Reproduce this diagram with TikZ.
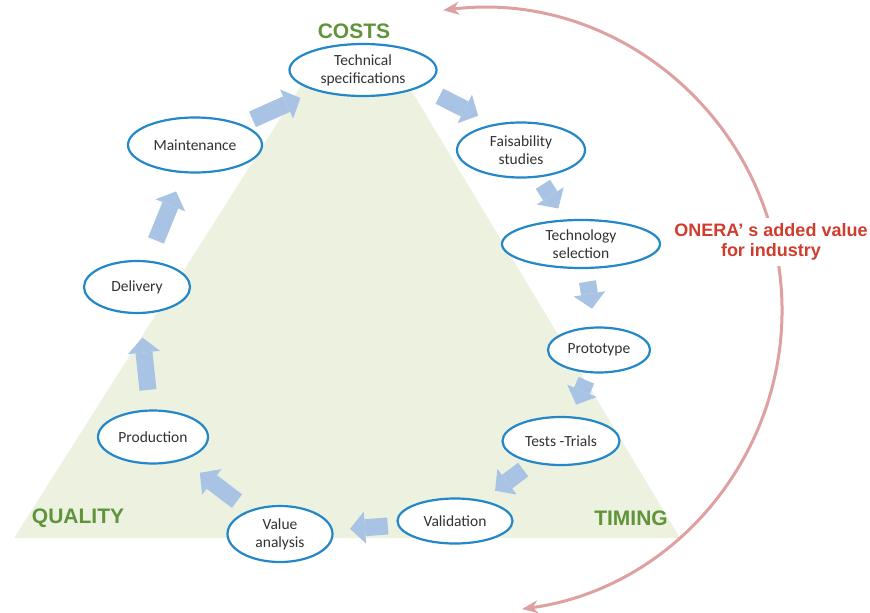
\documentclass[tikz,border=0pt]{standalone}
\usepackage{fontspec}
\setmainfont{Carlito}
\newfontfamily\headfont{Liberation Sans}
\usetikzlibrary{shapes.geometric,arrows.meta,calc}
\definecolor{tri}{RGB}{236,241,224}
\definecolor{ellblue}{RGB}{35,135,200}
\definecolor{arrblue}{RGB}{168,195,228}
\definecolor{costgreen}{RGB}{96,148,58}
\definecolor{arcred}{RGB}{222,160,160}
\definecolor{onerared}{RGB}{208,60,45}
\definecolor{txt}{RGB}{50,50,50}
\begin{document}
\begin{tikzpicture}[x=1pt,y=-1pt,
 stage/.style={ellipse, draw=ellblue, line width=2.2pt, fill=white, inner sep=0pt, text=txt, font=\fontsize{15.5}{18}\selectfont, align=center},
 flowarr/.style={draw=arrblue, line width=17pt, -{Triangle[length=15pt,width=32pt,line width=0pt]}},
 corner/.style={font=\headfont\bfseries\fontsize{21}{24}\selectfont, text=costgreen},
 arcline/.style={draw=arcred, line width=3pt, {Stealth[length=16pt,width=13pt]}-{Stealth[length=16pt,width=13pt]}},
]
\useasboundingbox (0,0) rectangle (870,613);
% background triangle
\fill[tri] (14,538) -- (311,70) -- (399,70) -- (680,538) -- cycle;
% red arc
\coordinate (arcc) at (480,310);
\draw[arcline] ($(arcc)+(-97:302)$) arc[start angle=-97,end angle=82,radius=302];
\node[font=\headfont\bfseries\fontsize{18}{20}\selectfont, text=onerared, fill=white, align=center, inner xsep=2pt, inner ysep=6pt] (onera) at (771,242) {ONERA’ s added value\\for industry};
% stages
\node[stage, minimum width=147pt, minimum height=52pt] (ts) at (363,70) {Technical\\specifications};
\node[stage, minimum width=128pt, minimum height=55pt] (fs) at (521,150) {Faisability\\studies};
\node[stage, minimum width=158pt, minimum height=48pt] (sel) at (581,244) {Technology\\selection};
\node[stage, minimum width=102pt, minimum height=45pt] (pro) at (599,350) {Prototype};
\node[stage, minimum width=117pt, minimum height=48pt] (tst) at (561,441) {Tests -Trials};
\node[stage, minimum width=115pt, minimum height=45pt] (val) at (455,521) {Validation};
\node[stage, minimum width=105pt, minimum height=56pt] (va) at (280,534) {Value\\analysis};
\node[stage, minimum width=110pt, minimum height=53pt] (prod) at (153,437) {Production};
\node[stage, minimum width=106pt, minimum height=52pt] (del) at (137,287) {Delivery};
\node[stage, minimum width=134pt, minimum height=55pt] (mnt) at (195,145) {Maintenance};
% flow arrows
\draw[flowarr] ($(ts)!0.452!(fs)+(5,-10)$) -- ($(ts)!0.697!(fs)+(5,-10)$);
\draw[flowarr] ($(fs)!0.365!(sel)$) -- ($(fs)!0.622!(sel)$);
\draw[flowarr] ($(sel)!0.355!(pro)$) -- ($(sel)!0.610!(pro)$);
\draw[flowarr] ($(pro)!0.333!(tst)$) -- ($(pro)!0.601!(tst)$);
\draw[flowarr] ($(tst)!0.357!(val)$) -- ($(tst)!0.622!(val)$);
\draw[flowarr] ($(val)!0.384!(va)$) -- ($(val)!0.600!(va)$);
\draw[flowarr] ($(va)!0.339!(prod)$) -- ($(va)!0.631!(prod)$);
\draw[flowarr] ($(prod)!0.314!(del)$) -- ($(prod)!0.663!(del)$);
\draw[flowarr] ($(del)!0.328!(mnt)$) -- ($(del)!0.673!(mnt)$);
\draw[flowarr] ($(mnt)!0.342!(ts)$) -- ($(mnt)!0.627!(ts)$);
% corner labels
\node[corner] (costs) at (354,31) {COSTS};
\node[corner] (quality) at (78,518) {QUALITY};
\node[corner] (timing) at (631,518) {TIMING};
\end{tikzpicture}
\end{document}
